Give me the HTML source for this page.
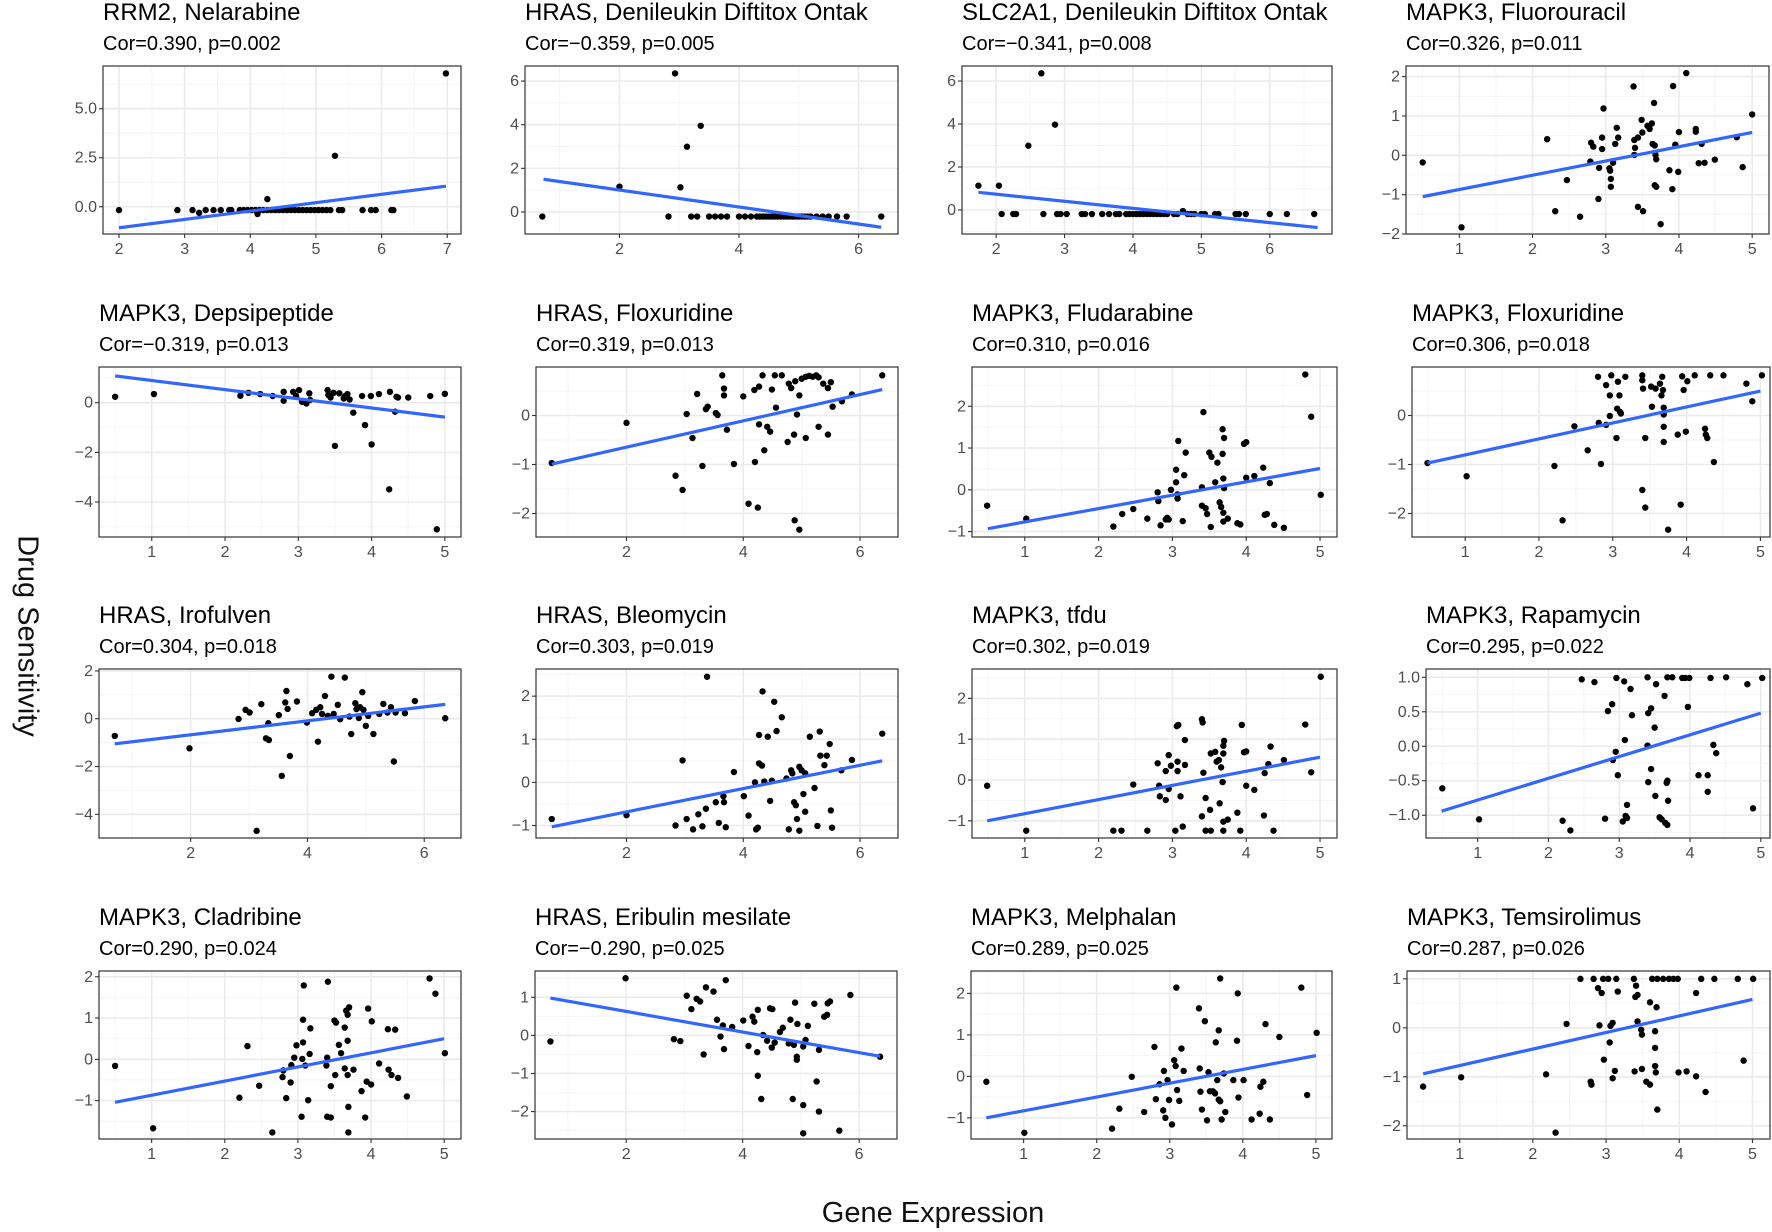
<!DOCTYPE html>
<html>
<head>
<meta charset="utf-8">
<style>
html,body{margin:0;padding:0;background:#fff;}
svg{display:block;font-family:"Liberation Sans",Arial,sans-serif;}
</style>
</head>
<body>
<svg id="chart" width="1772" height="1232" viewBox="0 0 1772 1232">
<rect x="0" y="0" width="1772" height="1232" fill="#fff"/>
<text x="26" y="636" transform="rotate(90 26 636)" text-anchor="middle" dominant-baseline="middle" font-size="29" fill="#111">Drug Sensitivity</text>
<text x="933" y="1222" text-anchor="middle" font-size="29" fill="#111">Gene Expression</text>
</svg>
<script>
// ---- data ----
const p1x = [2,2.89,3.12,3.22,3.32,3.44,3.55,3.68,3.71,3.84,3.9,3.96,4.02,4.08,4.14,4.2,4.26,4.32,4.38,4.44,4.5,4.56,4.62,4.68,4.74,4.8,4.86,4.92,4.98,5.04,5.1,5.16,5.22,5.35,5.4,4.11,4.26,5.29,5.71,5.84,5.91,6.15,6.18,6.98];
const p1y = [-0.17,-0.17,-0.17,-0.31,-0.17,-0.17,-0.17,-0.17,-0.17,-0.17,-0.17,-0.17,-0.17,-0.17,-0.17,-0.17,-0.17,-0.17,-0.17,-0.17,-0.17,-0.17,-0.17,-0.17,-0.17,-0.17,-0.17,-0.17,-0.17,-0.17,-0.17,-0.17,-0.17,-0.17,-0.17,-0.37,0.39,2.6,-0.17,-0.17,-0.17,-0.17,-0.17,6.8];
const p2x = [0.71,2.0,2.82,2.93,3.02,3.13,3.36,3.2,3.3,3.5,3.6,3.7,3.8,4.0,4.1,4.2,4.3,4.35,4.4,4.45,4.5,4.55,4.6,4.65,4.7,4.75,4.8,4.85,4.9,4.95,5.0,5.05,5.1,5.15,5.2,5.3,5.4,5.5,5.64,5.8,6.38];
const p2y = [-0.21,1.16,-0.21,6.35,1.13,2.99,3.95,-0.21,-0.21,-0.21,-0.21,-0.21,-0.21,-0.21,-0.21,-0.21,-0.21,-0.21,-0.21,-0.21,-0.21,-0.21,-0.21,-0.21,-0.21,-0.21,-0.21,-0.21,-0.21,-0.21,-0.21,-0.21,-0.21,-0.21,-0.21,-0.21,-0.21,-0.21,-0.21,-0.21,-0.21];
const p3x = [1.74,2.04,2.08,2.25,2.29,2.47,2.66,2.69,2.86,2.89,2.94,3.03,3.25,3.3,3.4,3.55,3.65,3.75,3.8,3.9,3.95,4.0,4.05,4.1,4.15,4.2,4.25,4.3,4.35,4.4,4.45,4.5,4.6,4.65,4.8,4.85,4.9,5.0,5.05,5.2,5.25,5.5,5.55,5.65,6.0,6.25,6.65,4.73];
const p3y = [1.13,1.13,-0.19,-0.19,-0.19,2.99,6.36,-0.19,3.97,-0.19,-0.19,-0.19,-0.19,-0.19,-0.19,-0.19,-0.19,-0.19,-0.19,-0.19,-0.19,-0.19,-0.19,-0.19,-0.19,-0.19,-0.19,-0.19,-0.19,-0.19,-0.19,-0.19,-0.19,-0.19,-0.19,-0.19,-0.19,-0.19,-0.19,-0.19,-0.19,-0.19,-0.19,-0.19,-0.19,-0.19,-0.19,-0.05];
const p4x = [0.5,1.03,2.2,2.31,2.47,2.65,2.79,2.8,2.83,2.9,2.91,2.95,2.95,2.97,3.05,3.06,3.07,3.07,3.1,3.13,3.15,3.17,3.38,3.39,3.4,3.39,3.44,3.44,3.49,3.5,3.51,3.57,3.6,3.63,3.64,3.66,3.67,3.67,3.68,3.69,3.69,3.75,3.87,3.91,3.92,3.95,3.99,4.0,4.1,4.23,4.23,4.31,4.27,4.35,4.49,4.79,4.87,5.0];
const p4y = [-0.18,-1.83,0.41,-1.42,-0.63,-1.56,-0.16,0.32,0.22,-1.11,-0.32,0.45,0.16,1.19,-0.33,-0.39,-0.8,-0.6,-0.19,0.29,0.7,0.45,1.75,0.39,0.19,0.01,0.45,-1.31,0.9,0.58,-1.42,0.75,0.67,0.81,0.29,1.33,0.25,-0.76,0.01,-0.1,-0.8,-1.75,-0.38,-0.86,1.76,0.27,-0.42,0.59,2.09,0.67,0.6,0.29,-0.2,-0.19,-0.11,0.46,-0.3,1.04];
const p5x = [0.5,1.03,2.21,2.32,2.48,2.65,2.8,2.8,2.93,2.97,3.01,3.05,3.11,3.15,3.16,3.4,3.41,3.44,3.48,3.56,3.62,3.64,3.67,3.7,3.75,3.5,3.87,3.99,4.1,4.25,4.34,3.91,4.0,4.24,4.32,4.36,4.5,4.8,4.89,5.0];
const p5y = [0.24,0.35,0.28,0.4,0.35,0.27,0.08,0.44,0.44,0.27,0.51,0.04,-0.03,0.38,0.11,0.51,0.31,0.21,0.4,0.38,0.17,0.27,0.35,0.13,-0.4,-1.74,0.27,0.27,0.35,0.44,0.24,-0.9,-1.68,-3.49,-0.36,0.21,0.21,0.27,-5.1,0.36];
const p6x = [0.72,2.0,2.84,2.96,3.03,3.13,3.21,3.3,3.36,3.39,3.53,3.56,3.64,3.67,3.67,3.72,3.84,4.0,4.09,4.19,4.2,4.25,4.27,4.27,4.33,4.36,4.41,4.46,4.49,4.56,4.54,4.66,4.76,4.78,4.82,4.87,4.88,4.89,4.92,4.96,4.96,5.0,5.07,5.13,5.19,5.25,5.29,5.07,5.29,5.37,5.45,5.5,5.45,5.53,5.69,5.86,6.38];
const p6y = [-0.97,-0.15,-1.23,-1.52,0.03,-0.46,0.44,-1.03,0.13,0.18,0.05,0.01,0.82,0.55,0.41,-0.29,-0.99,0.39,-1.8,0.52,-0.95,-1.88,0.59,-0.18,0.82,-0.71,-0.23,-0.33,0.53,0.16,0.82,0.82,-0.54,0.65,0.56,-0.39,-2.14,0.7,0.02,-2.33,0.41,0.75,0.79,0.81,0.79,0.82,0.78,-0.46,-0.23,0.65,0.56,0.68,-0.39,0.18,0.29,0.43,0.82];
const p7x = [0.49,1.02,2.2,2.32,2.47,2.66,2.8,2.81,2.84,2.91,2.93,2.95,2.98,3.05,3.05,3.08,3.07,3.07,3.14,3.16,3.18,3.4,3.4,3.42,3.45,3.47,3.5,3.52,3.53,3.58,3.61,3.64,3.66,3.68,3.69,3.68,3.7,3.7,3.69,3.69,3.75,3.88,3.92,3.97,4.0,4.0,4.11,4.23,4.25,4.28,4.32,4.38,4.51,4.8,4.88,5.01];
const p7y = [-0.38,-0.69,-0.88,-0.58,-0.46,-0.69,-0.06,-0.27,-0.85,-0.71,-0.67,-0.71,0.0,0.18,0.48,1.17,-0.21,-0.11,-0.75,0.35,0.89,0.06,-0.38,1.86,-0.44,-0.58,0.89,-0.89,0.79,0.18,0.65,-0.3,-0.41,0.86,0.27,1.45,0.04,1.24,-0.55,-0.76,-0.69,-0.8,-0.83,1.1,1.14,0.29,0.33,0.53,-0.6,-0.58,0.16,-0.84,-0.91,2.76,1.75,-0.12];
const p8x = [0.49,1.02,2.21,2.32,2.48,2.66,2.8,2.81,2.84,2.91,2.91,2.96,2.96,2.98,3.05,3.06,3.07,3.09,3.11,3.17,3.1,3.4,3.4,3.4,3.41,3.44,3.44,3.52,3.53,3.58,3.64,3.66,3.67,3.68,3.69,3.69,3.69,3.69,3.75,3.88,3.92,3.94,3.96,3.99,4.01,4.11,4.25,4.26,4.28,4.32,4.37,4.5,4.81,4.89,5.02];
const p8y = [-0.97,-1.24,-1.03,-2.14,-0.22,-0.71,0.79,-0.15,-0.99,0.62,-0.19,0.41,-0.01,0.82,-0.46,0.14,0.69,0.41,0.04,0.79,0.07,0.82,0.72,-1.52,0.55,-0.46,-1.88,0.59,0.18,0.55,0.65,0.41,0.79,0.52,0.16,0.02,-0.23,-0.54,-2.33,-0.39,-1.82,0.8,0.52,-0.33,0.7,0.82,-0.27,-0.39,-0.46,0.82,-0.95,0.82,0.65,0.29,0.82];
const p9x = [0.7,1.98,2.82,2.94,3.01,3.13,3.21,3.29,3.34,3.33,3.51,3.56,3.62,3.64,3.66,3.7,3.82,3.99,4.08,4.15,4.18,4.22,4.25,4.3,4.35,4.41,4.45,4.52,4.56,4.64,4.72,4.75,4.82,4.84,4.88,4.9,4.94,4.96,5.0,5.04,5.13,5.23,5.3,5.37,5.43,5.48,5.51,5.67,5.84,6.36];
const p9y = [-0.72,-1.24,-0.01,0.37,0.26,-4.69,0.61,-0.82,-0.89,-0.19,0.15,-2.39,0.68,1.16,0.41,-1.56,0.72,-0.16,0.23,0.37,-0.96,0.48,0.2,0.95,0.12,1.76,0.2,0.58,-0.02,1.72,0.09,-0.64,0.65,0.4,0.03,0.48,1.11,0.37,-0.3,0.12,-0.64,0.2,0.62,0.26,0.48,-1.79,0.26,0.23,0.74,0.02];
const p10x = [0.72,2.0,2.84,2.96,3.03,3.14,3.23,3.3,3.36,3.38,3.53,3.58,3.66,3.67,3.7,3.84,4.01,4.09,4.2,4.22,4.25,4.27,4.27,4.32,4.33,4.36,4.42,4.46,4.49,4.53,4.57,4.66,4.74,4.78,4.82,4.84,4.87,4.9,4.92,4.96,4.96,5.0,5.03,5.06,5.06,5.14,5.22,5.27,5.31,5.32,5.39,5.43,5.48,5.5,5.52,5.68,5.86,6.38];
const p10y = [-0.85,-0.76,-1.0,0.51,-0.85,-1.09,-0.74,-1.02,-0.61,2.45,-0.46,-0.94,-0.32,-0.46,-1.04,0.24,-0.32,-0.77,0.0,-1.09,-1.05,0.44,1.1,0.39,2.11,0.02,1.06,-0.43,0.04,1.87,1.19,1.51,0.09,-1.09,0.28,0.21,-0.46,-0.53,-0.85,0.36,-1.12,0.28,-0.27,0.21,-0.68,1.06,-0.13,-1.01,1.18,0.62,0.4,0.62,0.89,-0.65,-1.05,0.28,0.52,1.13];
const p11x = [0.49,1.02,2.2,2.31,2.47,2.66,2.8,2.82,2.83,2.91,2.91,2.95,2.95,2.98,3.04,3.06,3.08,3.07,3.07,3.11,3.14,3.17,3.17,3.4,3.41,3.42,3.4,3.45,3.45,3.51,3.52,3.52,3.58,3.6,3.63,3.64,3.66,3.68,3.69,3.69,3.7,3.69,3.69,3.75,3.88,3.92,3.94,3.97,4.0,4.0,4.11,4.24,4.25,4.3,4.33,4.37,4.51,4.8,4.88,5.01];
const p11y = [-0.14,-1.24,-1.24,-1.24,-0.11,-1.24,0.41,-0.14,-0.4,-0.49,0.22,0.61,-0.22,0.35,-1.24,1.32,1.35,0.45,0.22,-0.4,-1.14,0.98,0.37,1.49,1.41,0.18,-0.89,-0.44,-1.24,-0.73,0.65,-1.24,0.69,0.45,0.49,-0.57,0.31,-0.05,0.65,0.84,0.96,-1.02,-1.24,-0.97,-0.8,-1.24,1.35,0.68,0.7,-0.14,-0.24,-0.87,0.17,0.39,0.82,-1.24,0.49,1.36,0.19,2.53];
const p12x = [0.5,1.02,2.2,2.31,2.47,2.65,2.8,2.84,2.9,2.91,2.95,2.96,2.98,3.05,3.07,3.08,3.09,3.11,3.11,3.16,3.18,3.4,3.4,3.41,3.45,3.41,3.45,3.5,3.51,3.52,3.57,3.6,3.64,3.65,3.68,3.67,3.68,3.69,3.68,3.75,3.89,3.93,3.99,3.97,4.12,4.25,4.25,4.29,4.33,4.37,4.51,4.81,4.89,5.02];
const p12y = [-0.61,-1.06,-1.08,-1.22,0.97,0.93,-1.05,0.51,0.61,-0.2,-0.08,0.99,-0.42,-1.09,0.94,0.09,-1.01,-1.04,-0.85,0.83,0.45,1.0,0.01,0.48,0.55,-0.52,-0.33,0.27,-0.72,0.9,-1.03,-1.06,0.73,-1.11,-1.14,-0.53,-0.5,-0.79,1.0,1.0,0.99,0.99,0.99,0.57,-0.42,-0.42,-0.66,0.99,0.02,-0.1,1.0,0.9,-0.9,0.99];
const p13x = [0.5,1.02,2.2,2.31,2.47,2.65,2.79,2.8,2.84,2.9,2.91,2.95,2.98,3.05,3.06,3.07,3.07,3.08,3.1,3.14,3.16,3.17,3.39,3.4,3.41,3.4,3.45,3.45,3.5,3.51,3.52,3.56,3.59,3.64,3.64,3.66,3.68,3.68,3.68,3.69,3.69,3.7,3.76,3.87,3.92,3.94,3.96,4.0,4.01,4.11,4.23,4.24,4.28,4.33,4.37,4.49,4.8,4.88,5.01];
const p13y = [-0.16,-1.67,-0.93,0.32,-0.64,-1.77,-0.43,-0.27,-0.94,-0.56,-0.14,0.04,0.34,-1.39,0.01,0.96,0.41,1.79,-0.15,-0.99,0.13,0.75,-0.15,0.04,1.88,-1.39,-1.41,-0.65,0.94,-0.38,0.89,0.35,0.15,-0.22,0.77,1.18,0.45,-0.38,1.08,-1.15,-1.77,1.26,-0.25,-0.77,-1.41,-0.54,1.23,-0.61,0.92,-0.1,0.73,-0.25,-0.38,0.72,-0.45,-0.9,1.96,1.59,0.15];
const p14x = [0.7,1.99,2.82,2.93,3.04,3.12,3.21,3.27,3.33,3.37,3.5,3.56,3.62,3.66,3.68,3.71,3.82,4.01,4.1,4.17,4.2,4.25,4.26,4.26,4.32,4.35,4.42,4.47,4.51,4.5,4.55,4.64,4.69,4.79,4.82,4.86,4.88,4.9,4.93,4.93,4.94,5.04,5.04,5.04,5.08,5.12,5.23,5.27,5.31,5.31,5.4,5.45,5.46,5.5,5.66,5.85,6.36];
const p14y = [-0.16,1.5,-0.1,-0.15,1.04,0.69,0.96,0.89,-0.5,1.26,1.15,0.41,-0.03,0.26,-0.36,1.45,0.22,0.39,-0.28,0.49,0.36,-0.44,-1.06,0.67,-1.67,0.01,-0.14,0.71,0.69,-0.32,-0.19,0.09,0.2,-0.21,0.41,-1.67,-0.25,0.86,-0.56,-0.64,0.3,-0.29,-1.83,-2.57,-0.12,0.25,0.83,-1.21,-0.38,-2.0,0.49,0.54,0.84,0.89,-2.5,1.06,-0.56];
const p15x = [0.49,1.01,2.21,2.31,2.48,2.65,2.79,2.81,2.86,2.91,2.92,2.94,2.97,2.99,3.03,3.06,3.08,3.09,3.1,3.13,3.16,3.19,3.4,3.41,3.42,3.44,3.48,3.51,3.53,3.55,3.59,3.62,3.63,3.65,3.67,3.67,3.69,3.69,3.71,3.74,3.76,3.87,3.92,3.93,3.94,4.01,4.12,4.23,4.24,4.28,4.31,4.37,4.5,4.8,4.88,5.01];
const p15y = [-0.13,-1.36,-1.26,-0.78,-0.01,-0.86,0.71,-0.55,-0.19,-0.82,0.13,-1.0,-0.09,-0.57,-1.16,0.39,0.25,2.14,-0.33,-0.59,0.67,0.13,1.64,0.19,-0.37,-0.8,1.33,-1.06,0.1,-0.36,-0.36,-0.41,0.82,-0.09,1.11,-0.56,-0.6,2.36,-1.04,0.07,-0.86,-0.09,0.86,2.0,-0.51,-0.09,-1.04,-0.9,-0.25,-0.13,1.26,-1.04,0.95,2.14,-0.45,1.05];
const p16x = [0.5,1.02,2.18,2.31,2.46,2.65,2.79,2.8,2.83,2.89,2.94,2.91,2.96,2.97,3.03,3.05,3.06,3.09,3.09,3.12,3.14,3.16,3.38,3.41,3.39,3.4,3.43,3.43,3.48,3.49,3.49,3.55,3.6,3.6,3.63,3.67,3.67,3.67,3.68,3.69,3.7,3.7,3.78,3.86,3.92,3.98,3.99,4.1,4.23,4.23,4.3,4.48,4.36,4.8,4.88,5.01];
const p16y = [-1.2,-1.01,-0.95,-2.14,0.08,1.0,-1.1,-1.16,1.0,0.81,0.71,0.05,1.0,-0.65,1.0,-0.3,0.04,0.1,-1.03,-0.88,1.0,0.74,1.0,0.86,-0.89,0.63,0.67,0.13,-0.04,-0.14,-0.84,-1.1,-1.16,0.52,1.0,-0.07,-0.41,-0.78,-0.91,0.42,-1.67,1.0,1.0,1.0,1.0,1.0,-0.91,-0.89,0.71,-0.99,1.0,1.0,-1.31,1.0,-0.67,1.0];

// fitted regression line endpoints: [x0, x1] and [y0, y1]
const fitX = [[2,6.98],[0.73,6.38],[1.74,6.7],[0.5,5.0],[0.5,5.0],[0.72,6.38],[0.5,5.0],[0.49,5.0],[0.7,6.36],[0.72,6.38],[0.49,5.0],[0.49,5.0],[0.5,5.0],[0.7,6.36],[0.49,5.0],[0.5,5.0]];
const fitY = [[-1.07,1.05],[1.5,-0.7],[0.82,-0.82],[-1.05,0.58],[1.08,-0.58],[-0.99,0.53],[-0.93,0.51],[-0.97,0.5],[-1.05,0.6],[-1.03,0.5],[-1.0,0.56],[-0.94,0.48],[-1.04,0.5],[0.98,-0.55],[-1.0,0.5],[-0.94,0.58]];

const titles = ["RRM2, Nelarabine","HRAS, Denileukin Diftitox Ontak","SLC2A1, Denileukin Diftitox Ontak","MAPK3, Fluorouracil","MAPK3, Depsipeptide","HRAS, Floxuridine","MAPK3, Fludarabine","MAPK3, Floxuridine","HRAS, Irofulven","HRAS, Bleomycin","MAPK3, tfdu","MAPK3, Rapamycin","MAPK3, Cladribine","HRAS, Eribulin mesilate","MAPK3, Melphalan","MAPK3, Temsirolimus"];
const subtitles = ["Cor=0.390, p=0.002","Cor=\u22120.359, p=0.005","Cor=\u22120.341, p=0.008","Cor=0.326, p=0.011","Cor=\u22120.319, p=0.013","Cor=0.319, p=0.013","Cor=0.310, p=0.016","Cor=0.306, p=0.018","Cor=0.304, p=0.018","Cor=0.303, p=0.019","Cor=0.302, p=0.019","Cor=0.295, p=0.022","Cor=0.290, p=0.024","Cor=\u22120.290, p=0.025","Cor=0.289, p=0.025","Cor=0.287, p=0.026"];

const xTicks = [[2,3,4,5,6,7],[2,4,6],[2,3,4,5,6],[1,2,3,4,5],[1,2,3,4,5],[2,4,6],[1,2,3,4,5],[1,2,3,4,5],[2,4,6],[2,4,6],[1,2,3,4,5],[1,2,3,4,5],[1,2,3,4,5],[2,4,6],[1,2,3,4,5],[1,2,3,4,5]];
const yTicks = [[0,2.5,5],[0,2,4,6],[0,2,4,6],[-2,-1,0,1,2],[-4,-2,0],[-2,-1,0],[-1,0,1,2],[-2,-1,0],[-4,-2,0,2],[-1,0,1,2],[-1,0,1,2],[-1,-0.5,0,0.5,1],[-1,0,1,2],[-2,-1,0,1],[-1,0,1,2],[-2,-1,0,1]];
const yTickLabels = [["0.0","2.5","5.0"],null,null,null,null,null,null,null,null,null,null,["\u22121.0","\u22120.5","0.0","0.5","1.0"],null,null,null,null];

// axis limits (scale domain) per panel
const xLims = [[1.756,7.21],[0.42,6.66],[1.5,6.91],[0.272,5.23],[0.28,5.22],[0.45,6.65],[0.285,5.23],[0.28,5.13],[0.43,6.63],[0.45,6.65],[0.285,5.23],[0.27,5.13],[0.28,5.23],[0.435,6.65],[0.28,5.22],[0.28,5.24]];
const yLims = [[-1.39,7.18],[-1.01,6.69],[-1.12,6.7],[-2.0,2.27],[-5.41,1.44],[-2.48,0.99],[-1.13,2.94],[-2.48,0.99],[-4.99,2.08],[-1.29,2.63],[-1.42,2.72],[-1.33,1.12],[-1.93,2.14],[-2.72,1.69],[-1.51,2.54],[-2.27,1.16]];

const xsAll = [p1x,p2x,p3x,p4x,p5x,p6x,p7x,p8x,p9x,p10x,p11x,p12x,p13x,p14x,p15x,p16x];
const ysAll = [p1y,p2y,p3y,p4y,p5y,p6y,p7y,p8y,p9y,p10y,p11y,p12y,p13y,p14y,p15y,p16y];

// ---- layout (pixel boxes: left, top, right, bottom) ----
const layoutBoxes = [
 [103,66,461,234],[525,66,898,234],[962,66,1332,234],[1406,66,1769,234],
 [99,367,461,537],[536,367,898,537],[972,367,1337,537],[1412,367,1770,537],
 [99,669,461,838],[536,669,898,838],[972,669,1337,838],[1426,669,1770,838],
 [99,971,461,1139],[535,971,897,1139],[971,971,1332,1139],[1407,971,1770,1139]
];

const NS = "http://www.w3.org/2000/svg";
const svg = document.getElementById('chart');
function mk(tag, attrs, parent) {
  const e = document.createElementNS(NS, tag);
  for (const k in attrs) e.setAttribute(k, attrs[k]);
  parent.appendChild(e);
  return e;
}
function fmt(v) {
  const s = String(Math.abs(v));
  return (v < 0 ? "\u2212" : "") + s;
}
function minors(ticks, lo, hi) {
  const out = [];
  const step = ticks.length > 1 ? ticks[1] - ticks[0] : 1;
  const ext = [ticks[0] - step].concat(ticks, [ticks[ticks.length - 1] + step]);
  for (let i = 0; i < ext.length - 1; i++) {
    const m = (ext[i] + ext[i + 1]) / 2;
    if (m > lo && m < hi) out.push(m);
  }
  return out;
}

for (let i = 0; i < 16; i++) {
  const [L, T, R, B] = layoutBoxes[i];
  const xl = xLims[i], yl = yLims[i];
  const sx = v => L + (v - xl[0]) / (xl[1] - xl[0]) * (R - L);
  const sy = v => B - (v - yl[0]) / (yl[1] - yl[0]) * (B - T);
  const g = mk('g', {}, svg);
  
  

  const bg = mk('rect', {x: L, y: T, width: R - L, height: B - T, fill: '#fff'}, g);
  
  

  const grid = mk('g', {}, g);
  
  
  minors(xTicks[i], xl[0], xl[1]).forEach(v => {
    mk('line', {x1: sx(v), x2: sx(v), y1: T, y2: B, stroke: '#F4F4F4', 'stroke-width': 0.9}, grid);
  });
  minors(yTicks[i], yl[0], yl[1]).forEach(v => {
    mk('line', {x1: L, x2: R, y1: sy(v), y2: sy(v), stroke: '#F4F4F4', 'stroke-width': 0.9}, grid);
  });
  xTicks[i].forEach(v => {
    mk('line', {x1: sx(v), x2: sx(v), y1: T, y2: B, stroke: '#EBEBEB', 'stroke-width': 1.6}, grid);
  });
  yTicks[i].forEach(v => {
    mk('line', {x1: L, x2: R, y1: sy(v), y2: sy(v), stroke: '#EBEBEB', 'stroke-width': 1.6}, grid);
  });

  const pts = mk('g', {}, g);
  
  
  const xs = xsAll[i], ys = ysAll[i];
  for (let k = 0; k < xs.length; k++) {
    const c = mk('circle', {cx: sx(xs[k]), cy: sy(ys[k]), r: 3.2, fill: '#000'}, pts);
    
    
  }

  const fl = mk('line', {x1: sx(fitX[i][0]), y1: sy(fitY[i][0]), x2: sx(fitX[i][1]), y2: sy(fitY[i][1]), stroke: '#3366FF', 'stroke-width': 3.2}, g);
  
  

  const border = mk('rect', {x: L, y: T, width: R - L, height: B - T, fill: 'none', stroke: '#333', 'stroke-width': 1.2}, g);
  
  

  const xa = mk('g', {}, g);
  
  
  xTicks[i].forEach(v => {
    mk('line', {x1: sx(v), x2: sx(v), y1: B, y2: B + 4, stroke: '#333', 'stroke-width': 1.1}, xa);
    const t = mk('text', {x: sx(v), y: B + 20, 'text-anchor': 'middle', 'font-size': 16, fill: '#4D4D4D'}, xa);
    t.textContent = fmt(v);
    
    
  });
  const ya = mk('g', {}, g);
  
  
  yTicks[i].forEach((v, j) => {
    mk('line', {x1: L - 4, x2: L, y1: sy(v), y2: sy(v), stroke: '#333', 'stroke-width': 1.1}, ya);
    const t = mk('text', {x: L - 6, y: sy(v) + 5, 'text-anchor': 'end', 'font-size': 16, fill: '#4D4D4D'}, ya);
    t.textContent = yTickLabels[i] ? yTickLabels[i][j] : fmt(v);
    
    
  });

  const tt = mk('text', {x: L, y: T - 46, 'font-size': 24, fill: '#000'}, g);
  tt.textContent = titles[i];
  
  
  const st = mk('text', {x: L, y: T - 16, 'font-size': 20, fill: '#000'}, g);
  st.textContent = subtitles[i];
  
  
}
</script>
</body>
</html>
